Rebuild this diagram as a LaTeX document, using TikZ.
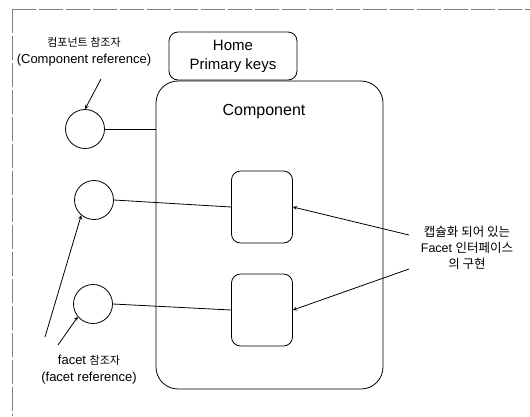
\documentclass[tikz,border=0pt]{standalone}
\usepackage{fontspec}
\setmainfont{Liberation Sans}
\newfontfamily\kr{Noto Sans CJK KR}
\usetikzlibrary{arrows}

\tikzset{
  part/.style={draw, rounded corners=#1, inner sep=0pt},
  refcircle/.style={draw, circle, minimum size=39pt, inner sep=0pt},
  note/.style={align=center, font=\fontsize{13}{17}\selectfont},
}

\begin{document}
\begin{tikzpicture}[x=1pt, y=-1pt, >=stealth, line width=0.8pt]
        \useasboundingbox (0,0) rectangle (530,416);
        \draw[gray, line width=0.6pt, dash pattern=on 24pt off 3pt] (12,9) -- (530,9);
        \draw[gray, line width=0.6pt, dash pattern=on 24pt off 3pt] (12,9) -- (12,416);

        \node[part=9pt, minimum width=128pt, minimum height=48pt, align=center,
              font=\fontsize{15}{19}\selectfont] (home) at (233,56) {Home\\Primary keys};
        \node[part=22pt, minimum width=227pt, minimum height=308pt] (comp) at (269.5,235) {};
        \node[font=\fontsize{16}{19}\selectfont] (title) at (264,112) {Component};
        \node[part=9pt, minimum width=61pt, minimum height=72pt] (f1) at (262,207) {};
        \node[part=9pt, minimum width=61pt, minimum height=72pt] (f2) at (262,310) {};

        \node[refcircle] (c1) at (85,129) {};
        \node[refcircle] (c2) at (94,200) {};
        \node[refcircle] (c3) at (93,304) {};

        \node[note] (cref) at (84,52) {{\kr\fontsize{11}{17}\selectfont 컴포넌트 참조자}\\(Component reference)};
        \node[note] (fref) at (89,370) {facet {\kr\fontsize{11}{17}\selectfont 참조자}\\(facet reference)};
        \node[note, font=\fontsize{12.5}{16}\selectfont] (impl) at (467,248)
              {{\kr 캡슐화 되어 있는}\\Facet {\kr 인터페이스}\\{\kr 의 구현}};

        \coordinate (a1) at (101,79);
        \coordinate (a2) at (45,337);
        \coordinate (a3) at (58,345);
        \coordinate (a4) at (409,235);
        \coordinate (a5) at (409,269);

        \draw (c1.east) -- (c1.east -| comp.west);
        \foreach \i/\j in {c2/f1, c3/f2}
            \draw (\i.east) -- (\j.west);

        \foreach \i/\j in {a1/c1.north, a2/c2.230, a3/c3.220, a4/f1.east, a5/f2.east}
            \path[->] (\i) edge (\j);
\end{tikzpicture}
\end{document}
